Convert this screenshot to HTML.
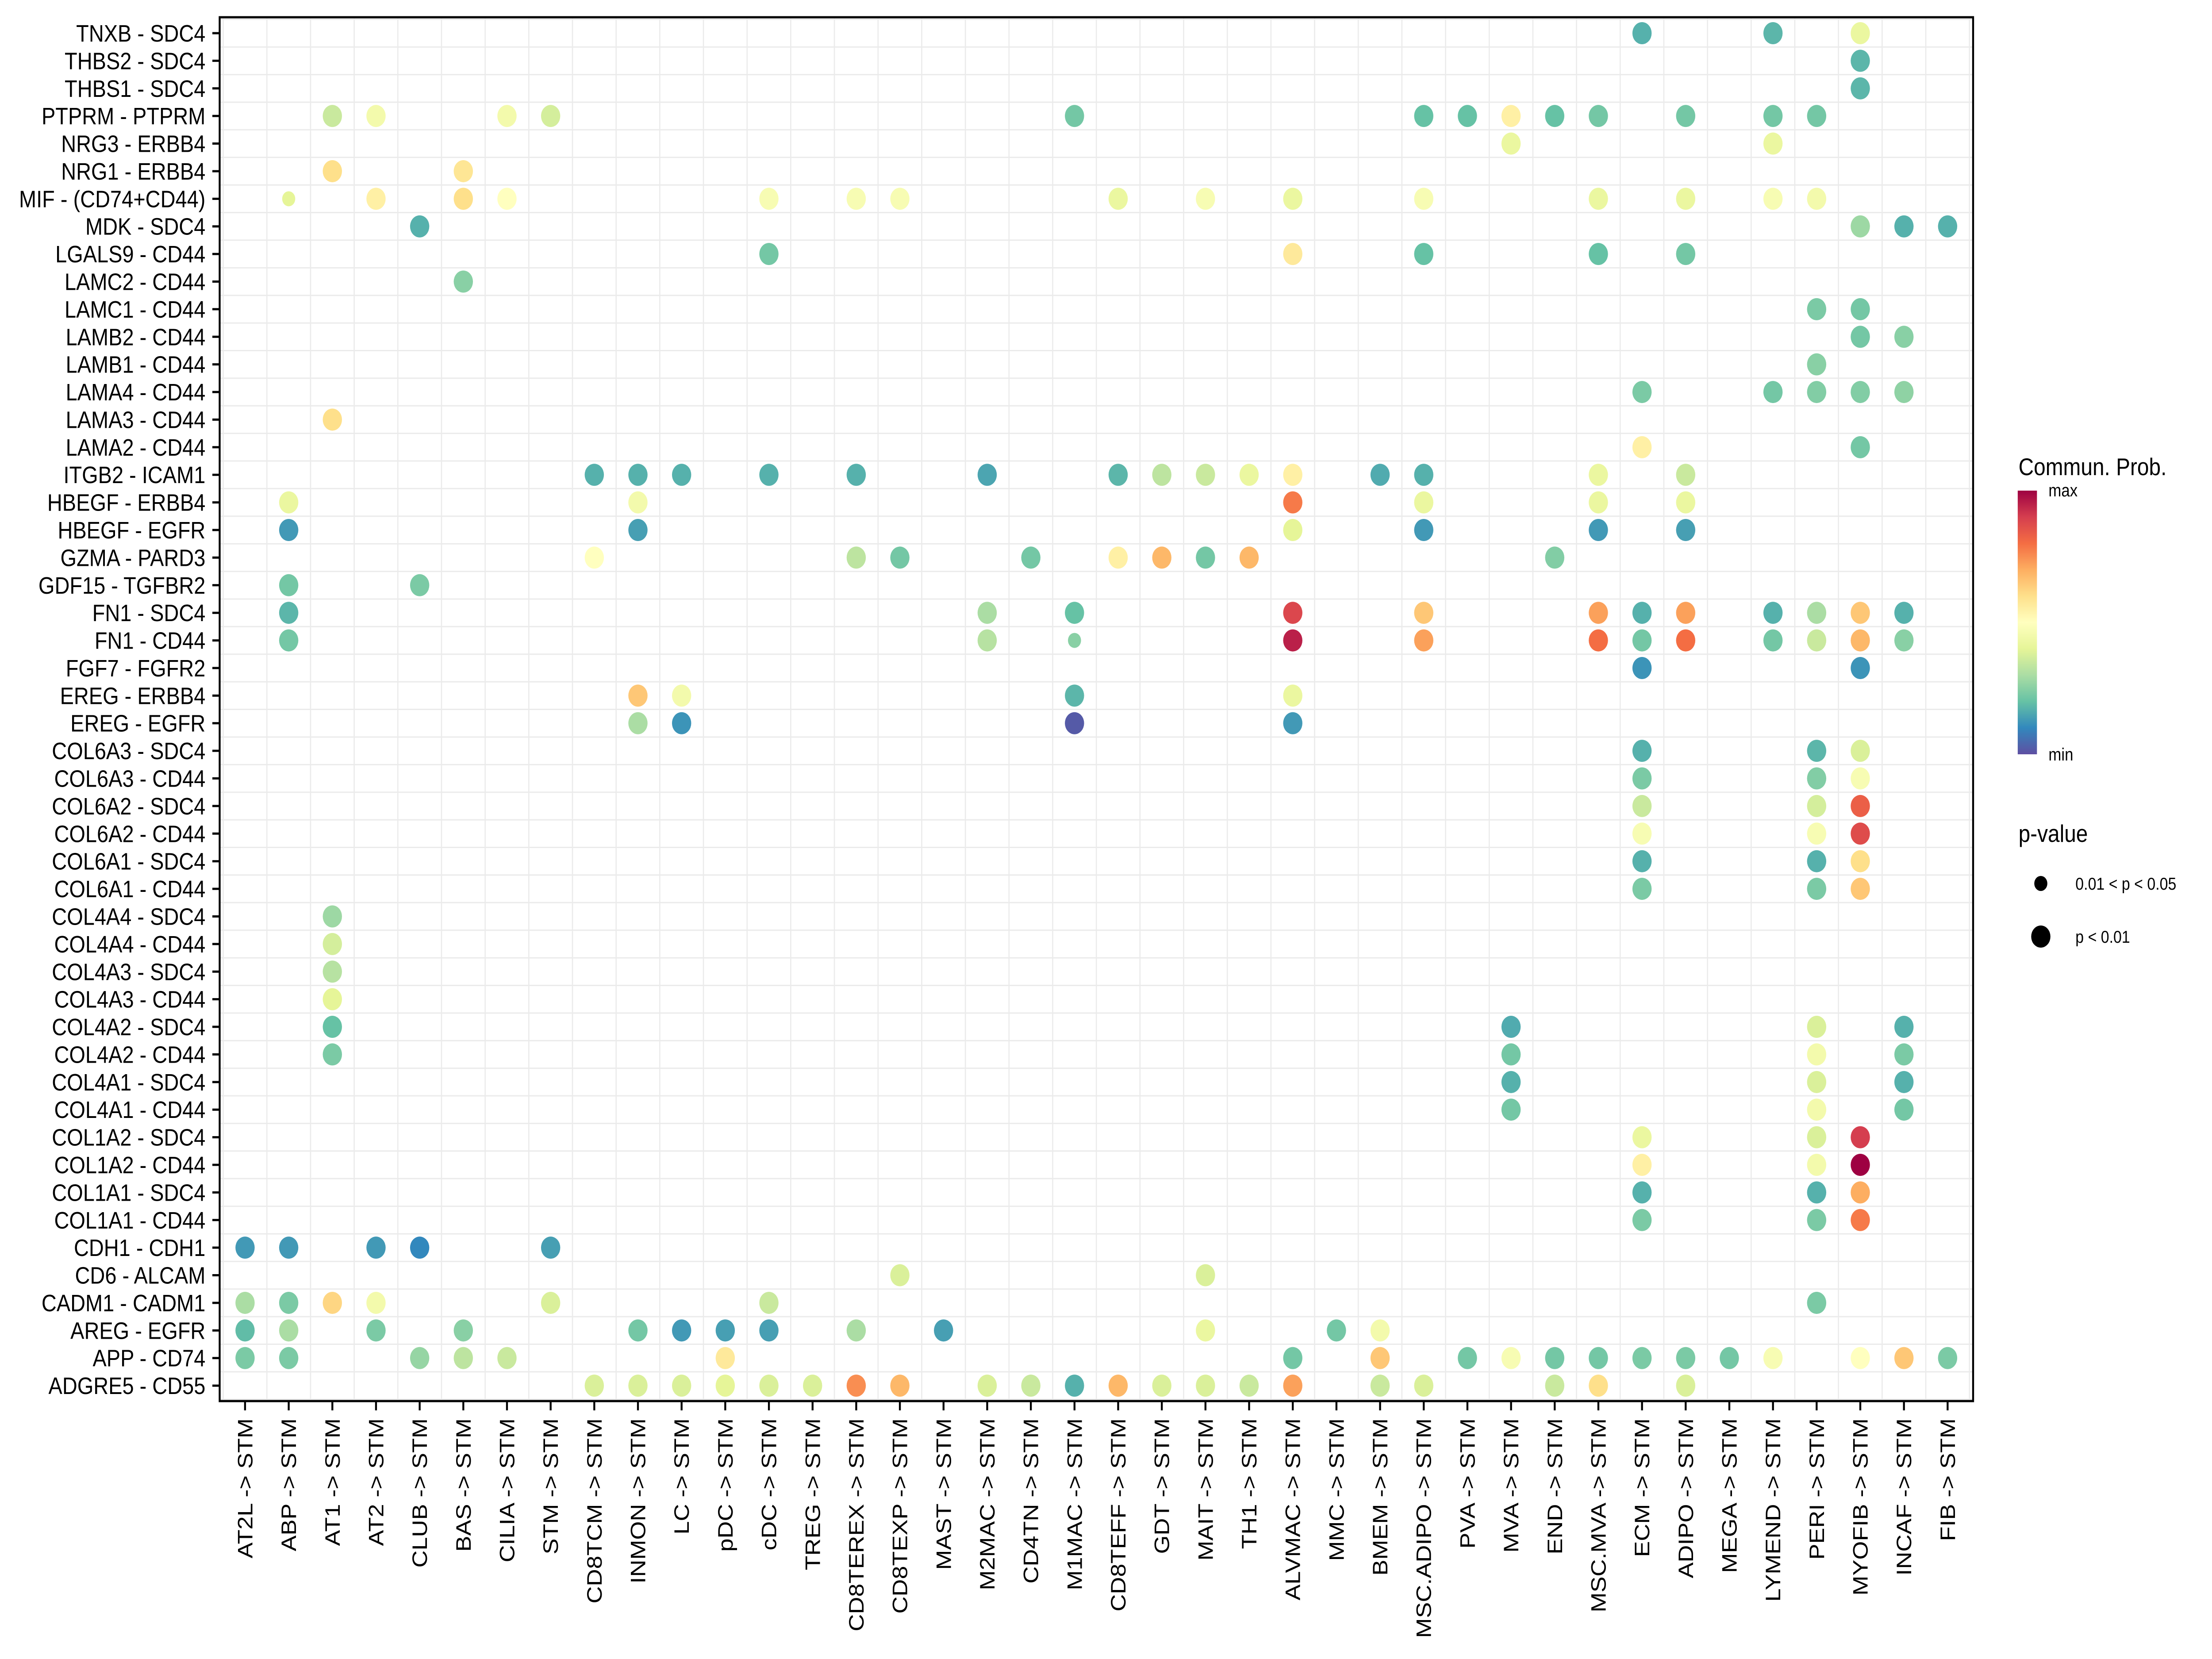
<!DOCTYPE html>
<html><head><meta charset="utf-8"><style>
html,body{margin:0;padding:0;background:#fff;width:100%;height:100%;overflow:hidden;}
svg{display:block;width:100vw;height:100vh;font-family:"Liberation Sans",Arial,sans-serif;}
</style></head><body>
<svg id="chart" viewBox="0 0 5750 3750" preserveAspectRatio="none" xmlns="http://www.w3.org/2000/svg">
<defs>
<linearGradient id="cbar" x1="0" y1="1" x2="0" y2="0">
<stop offset="0" stop-color="#5E4FA2"/><stop offset="0.1" stop-color="#3288BD"/><stop offset="0.2" stop-color="#66C2A5"/><stop offset="0.3" stop-color="#ABDDA4"/><stop offset="0.4" stop-color="#E6F598"/><stop offset="0.5" stop-color="#FFFFBF"/><stop offset="0.6" stop-color="#FEE08B"/><stop offset="0.7" stop-color="#FDAE61"/><stop offset="0.8" stop-color="#F46D43"/><stop offset="0.9" stop-color="#D53E4F"/><stop offset="1" stop-color="#9E0142"/>
</linearGradient>
</defs>
<g id="grid"></g>
<g id="dots"></g>
<rect x="571" y="39" width="4558" height="3128" fill="none" stroke="#000" stroke-width="5"/>
<g id="yaxis"></g>
<g id="xaxis"></g>
<g>
<text x="5247" y="1074" font-size="55">Commun. Prob.</text>
<rect x="5245" y="1109" width="50" height="596" fill="url(#cbar)"/>
<text x="5325" y="1122" font-size="40">max</text>
<text x="5325" y="1719" font-size="40">min</text>
</g>
<g>
<text x="5247" y="1903" font-size="55">p-value</text>
<circle cx="5305" cy="1997" r="17" fill="#000"/>
<text x="5395" y="2011" font-size="39">0.01 &lt; p &lt; 0.05</text>
<circle cx="5305" cy="2117" r="25" fill="#000"/>
<text x="5395" y="2131" font-size="39">p &lt; 0.01</text>
</g>
</svg>
<script>
const pairs = ["TNXB - SDC4","THBS2 - SDC4","THBS1 - SDC4","PTPRM - PTPRM","NRG3 - ERBB4","NRG1 - ERBB4","MIF - (CD74+CD44)","MDK - SDC4","LGALS9 - CD44","LAMC2 - CD44","LAMC1 - CD44","LAMB2 - CD44","LAMB1 - CD44","LAMA4 - CD44","LAMA3 - CD44","LAMA2 - CD44","ITGB2 - ICAM1","HBEGF - ERBB4","HBEGF - EGFR","GZMA - PARD3","GDF15 - TGFBR2","FN1 - SDC4","FN1 - CD44","FGF7 - FGFR2","EREG - ERBB4","EREG - EGFR","COL6A3 - SDC4","COL6A3 - CD44","COL6A2 - SDC4","COL6A2 - CD44","COL6A1 - SDC4","COL6A1 - CD44","COL4A4 - SDC4","COL4A4 - CD44","COL4A3 - SDC4","COL4A3 - CD44","COL4A2 - SDC4","COL4A2 - CD44","COL4A1 - SDC4","COL4A1 - CD44","COL1A2 - SDC4","COL1A2 - CD44","COL1A1 - SDC4","COL1A1 - CD44","CDH1 - CDH1","CD6 - ALCAM","CADM1 - CADM1","AREG - EGFR","APP - CD74","ADGRE5 - CD55"];
const sources = ["AT2L","ABP","AT1","AT2","CLUB","BAS","CILIA","STM","CD8TCM","INMON","LC","pDC","cDC","TREG","CD8TEREX","CD8TEXP","MAST","M2MAC","CD4TN","M1MAC","CD8TEFF","GDT","MAIT","TH1","ALVMAC","MMC","BMEM","MSC.ADIPO","PVA","MVA","END","MSC.MVA","ECM","ADIPO","MEGA","LYMEND","PERI","MYOFIB","INCAF","FIB"];
// [pair, source, relative probability 0..1, small (0.01<p<0.05)]
const dots = [
["TNXB - SDC4","ECM",0.17,0],["TNXB - SDC4","LYMEND",0.18,0],["TNXB - SDC4","MYOFIB",0.42,0],
["THBS2 - SDC4","MYOFIB",0.18,0],["THBS1 - SDC4","MYOFIB",0.18,0],
["PTPRM - PTPRM","AT1",0.35,0],["PTPRM - PTPRM","AT2",0.45,0],["PTPRM - PTPRM","CILIA",0.45,0],["PTPRM - PTPRM","STM",0.37,0],["PTPRM - PTPRM","M1MAC",0.22,0],["PTPRM - PTPRM","MSC.ADIPO",0.2,0],["PTPRM - PTPRM","PVA",0.2,0],["PTPRM - PTPRM","MVA",0.55,0],["PTPRM - PTPRM","END",0.2,0],["PTPRM - PTPRM","MSC.MVA",0.22,0],["PTPRM - PTPRM","ADIPO",0.22,0],["PTPRM - PTPRM","LYMEND",0.22,0],["PTPRM - PTPRM","PERI",0.22,0],
["NRG3 - ERBB4","MVA",0.42,0],["NRG3 - ERBB4","LYMEND",0.42,0],
["NRG1 - ERBB4","AT1",0.6,0],["NRG1 - ERBB4","BAS",0.58,0],
["MIF - (CD74+CD44)","ABP",0.4,1],["MIF - (CD74+CD44)","AT2",0.55,0],["MIF - (CD74+CD44)","BAS",0.6,0],["MIF - (CD74+CD44)","CILIA",0.5,0],["MIF - (CD74+CD44)","cDC",0.47,0],["MIF - (CD74+CD44)","CD8TEREX",0.47,0],["MIF - (CD74+CD44)","CD8TEXP",0.47,0],["MIF - (CD74+CD44)","CD8TEFF",0.42,0],["MIF - (CD74+CD44)","MAIT",0.47,0],["MIF - (CD74+CD44)","ALVMAC",0.42,0],["MIF - (CD74+CD44)","MSC.ADIPO",0.47,0],["MIF - (CD74+CD44)","MSC.MVA",0.42,0],["MIF - (CD74+CD44)","ADIPO",0.42,0],["MIF - (CD74+CD44)","LYMEND",0.47,0],["MIF - (CD74+CD44)","PERI",0.45,0],
["MDK - SDC4","CLUB",0.17,0],["MDK - SDC4","MYOFIB",0.28,0],["MDK - SDC4","INCAF",0.17,0],["MDK - SDC4","FIB",0.17,0],
["LGALS9 - CD44","cDC",0.22,0],["LGALS9 - CD44","ALVMAC",0.57,0],["LGALS9 - CD44","MSC.ADIPO",0.2,0],["LGALS9 - CD44","MSC.MVA",0.2,0],["LGALS9 - CD44","ADIPO",0.22,0],
["LAMC2 - CD44","BAS",0.25,0],
["LAMC1 - CD44","PERI",0.23,0],["LAMC1 - CD44","MYOFIB",0.22,0],
["LAMB2 - CD44","MYOFIB",0.22,0],["LAMB2 - CD44","INCAF",0.25,0],
["LAMB1 - CD44","PERI",0.25,0],
["LAMA4 - CD44","ECM",0.23,0],["LAMA4 - CD44","LYMEND",0.22,0],["LAMA4 - CD44","PERI",0.24,0],["LAMA4 - CD44","MYOFIB",0.24,0],["LAMA4 - CD44","INCAF",0.26,0],
["LAMA3 - CD44","AT1",0.6,0],
["LAMA2 - CD44","ECM",0.55,0],["LAMA2 - CD44","MYOFIB",0.22,0],
["ITGB2 - ICAM1","CD8TCM",0.17,0],["ITGB2 - ICAM1","INMON",0.17,0],["ITGB2 - ICAM1","LC",0.17,0],["ITGB2 - ICAM1","cDC",0.17,0],["ITGB2 - ICAM1","CD8TEREX",0.17,0],["ITGB2 - ICAM1","M2MAC",0.15,0],["ITGB2 - ICAM1","CD8TEFF",0.18,0],["ITGB2 - ICAM1","GDT",0.33,0],["ITGB2 - ICAM1","MAIT",0.35,0],["ITGB2 - ICAM1","TH1",0.42,0],["ITGB2 - ICAM1","ALVMAC",0.55,0],["ITGB2 - ICAM1","BMEM",0.16,0],["ITGB2 - ICAM1","MSC.ADIPO",0.17,0],["ITGB2 - ICAM1","MSC.MVA",0.42,0],["ITGB2 - ICAM1","ADIPO",0.35,0],
["HBEGF - ERBB4","ABP",0.42,0],["HBEGF - ERBB4","INMON",0.45,0],["HBEGF - ERBB4","ALVMAC",0.78,0],["HBEGF - ERBB4","MSC.ADIPO",0.42,0],["HBEGF - ERBB4","MSC.MVA",0.42,0],["HBEGF - ERBB4","ADIPO",0.42,0],
["HBEGF - EGFR","ABP",0.13,0],["HBEGF - EGFR","INMON",0.14,0],["HBEGF - EGFR","ALVMAC",0.4,0],["HBEGF - EGFR","MSC.ADIPO",0.13,0],["HBEGF - EGFR","MSC.MVA",0.13,0],["HBEGF - EGFR","ADIPO",0.14,0],
["GZMA - PARD3","CD8TCM",0.5,0],["GZMA - PARD3","CD8TEREX",0.33,0],["GZMA - PARD3","CD8TEXP",0.22,0],["GZMA - PARD3","CD4TN",0.22,0],["GZMA - PARD3","CD8TEFF",0.55,0],["GZMA - PARD3","GDT",0.68,0],["GZMA - PARD3","MAIT",0.22,0],["GZMA - PARD3","TH1",0.68,0],["GZMA - PARD3","END",0.24,0],
["GDF15 - TGFBR2","ABP",0.22,0],["GDF15 - TGFBR2","CLUB",0.23,0],
["FN1 - SDC4","ABP",0.18,0],["FN1 - SDC4","M2MAC",0.3,0],["FN1 - SDC4","M1MAC",0.2,0],["FN1 - SDC4","ALVMAC",0.88,0],["FN1 - SDC4","MSC.ADIPO",0.65,0],["FN1 - SDC4","MSC.MVA",0.72,0],["FN1 - SDC4","ECM",0.17,0],["FN1 - SDC4","ADIPO",0.72,0],["FN1 - SDC4","LYMEND",0.17,0],["FN1 - SDC4","PERI",0.3,0],["FN1 - SDC4","MYOFIB",0.65,0],["FN1 - SDC4","INCAF",0.17,0],
["FN1 - CD44","ABP",0.22,0],["FN1 - CD44","M2MAC",0.32,0],["FN1 - CD44","M1MAC",0.25,1],["FN1 - CD44","ALVMAC",0.95,0],["FN1 - CD44","MSC.ADIPO",0.72,0],["FN1 - CD44","MSC.MVA",0.8,0],["FN1 - CD44","ECM",0.22,0],["FN1 - CD44","ADIPO",0.8,0],["FN1 - CD44","LYMEND",0.22,0],["FN1 - CD44","PERI",0.35,0],["FN1 - CD44","MYOFIB",0.68,0],["FN1 - CD44","INCAF",0.25,0],
["FGF7 - FGFR2","ECM",0.12,0],["FGF7 - FGFR2","MYOFIB",0.12,0],
["EREG - ERBB4","INMON",0.65,0],["EREG - ERBB4","LC",0.45,0],["EREG - ERBB4","M1MAC",0.18,0],["EREG - ERBB4","ALVMAC",0.42,0],
["EREG - EGFR","INMON",0.3,0],["EREG - EGFR","LC",0.12,0],["EREG - EGFR","M1MAC",0.02,0],["EREG - EGFR","ALVMAC",0.13,0],
["COL6A3 - SDC4","ECM",0.17,0],["COL6A3 - SDC4","PERI",0.18,0],["COL6A3 - SDC4","MYOFIB",0.38,0],
["COL6A3 - CD44","ECM",0.23,0],["COL6A3 - CD44","PERI",0.24,0],["COL6A3 - CD44","MYOFIB",0.47,0],
["COL6A2 - SDC4","ECM",0.35,0],["COL6A2 - SDC4","PERI",0.37,0],["COL6A2 - SDC4","MYOFIB",0.83,0],
["COL6A2 - CD44","ECM",0.47,0],["COL6A2 - CD44","PERI",0.47,0],["COL6A2 - CD44","MYOFIB",0.87,0],
["COL6A1 - SDC4","ECM",0.17,0],["COL6A1 - SDC4","PERI",0.17,0],["COL6A1 - SDC4","MYOFIB",0.6,0],
["COL6A1 - CD44","ECM",0.23,0],["COL6A1 - CD44","PERI",0.23,0],["COL6A1 - CD44","MYOFIB",0.65,0],
["COL4A4 - SDC4","AT1",0.28,0],["COL4A4 - CD44","AT1",0.37,0],["COL4A3 - SDC4","AT1",0.32,0],["COL4A3 - CD44","AT1",0.4,0],
["COL4A2 - SDC4","AT1",0.2,0],["COL4A2 - SDC4","MVA",0.16,0],["COL4A2 - SDC4","PERI",0.38,0],["COL4A2 - SDC4","INCAF",0.17,0],
["COL4A2 - CD44","AT1",0.23,0],["COL4A2 - CD44","MVA",0.22,0],["COL4A2 - CD44","PERI",0.45,0],["COL4A2 - CD44","INCAF",0.23,0],
["COL4A1 - SDC4","MVA",0.17,0],["COL4A1 - SDC4","PERI",0.38,0],["COL4A1 - SDC4","INCAF",0.17,0],
["COL4A1 - CD44","MVA",0.22,0],["COL4A1 - CD44","PERI",0.45,0],["COL4A1 - CD44","INCAF",0.22,0],
["COL1A2 - SDC4","ECM",0.42,0],["COL1A2 - SDC4","PERI",0.38,0],["COL1A2 - SDC4","MYOFIB",0.9,0],
["COL1A2 - CD44","ECM",0.55,0],["COL1A2 - CD44","PERI",0.45,0],["COL1A2 - CD44","MYOFIB",1.0,0],
["COL1A1 - SDC4","ECM",0.17,0],["COL1A1 - SDC4","PERI",0.17,0],["COL1A1 - SDC4","MYOFIB",0.7,0],
["COL1A1 - CD44","ECM",0.23,0],["COL1A1 - CD44","PERI",0.23,0],["COL1A1 - CD44","MYOFIB",0.78,0],
["CDH1 - CDH1","AT2L",0.13,0],["CDH1 - CDH1","ABP",0.13,0],["CDH1 - CDH1","AT2",0.13,0],["CDH1 - CDH1","CLUB",0.1,0],["CDH1 - CDH1","STM",0.14,0],
["CD6 - ALCAM","CD8TEXP",0.38,0],["CD6 - ALCAM","MAIT",0.38,0],
["CADM1 - CADM1","AT2L",0.3,0],["CADM1 - CADM1","ABP",0.23,0],["CADM1 - CADM1","AT1",0.62,0],["CADM1 - CADM1","AT2",0.45,0],["CADM1 - CADM1","STM",0.38,0],["CADM1 - CADM1","cDC",0.35,0],["CADM1 - CADM1","PERI",0.23,0],
["AREG - EGFR","AT2L",0.19,0],["AREG - EGFR","ABP",0.3,0],["AREG - EGFR","AT2",0.23,0],["AREG - EGFR","BAS",0.25,0],["AREG - EGFR","INMON",0.22,0],["AREG - EGFR","LC",0.13,0],["AREG - EGFR","pDC",0.14,0],["AREG - EGFR","cDC",0.14,0],["AREG - EGFR","CD8TEREX",0.3,0],["AREG - EGFR","MAST",0.14,0],["AREG - EGFR","MAIT",0.42,0],["AREG - EGFR","MMC",0.22,0],["AREG - EGFR","BMEM",0.45,0],
["APP - CD74","AT2L",0.23,0],["APP - CD74","ABP",0.23,0],["APP - CD74","CLUB",0.27,0],["APP - CD74","BAS",0.33,0],["APP - CD74","CILIA",0.35,0],["APP - CD74","pDC",0.57,0],["APP - CD74","ALVMAC",0.22,0],["APP - CD74","BMEM",0.65,0],["APP - CD74","PVA",0.22,0],["APP - CD74","MVA",0.47,0],["APP - CD74","END",0.22,0],["APP - CD74","MSC.MVA",0.22,0],["APP - CD74","ECM",0.23,0],["APP - CD74","ADIPO",0.23,0],["APP - CD74","MEGA",0.22,0],["APP - CD74","LYMEND",0.47,0],["APP - CD74","MYOFIB",0.5,0],["APP - CD74","INCAF",0.65,0],["APP - CD74","FIB",0.23,0],
["ADGRE5 - CD55","CD8TCM",0.38,0],["ADGRE5 - CD55","INMON",0.38,0],["ADGRE5 - CD55","LC",0.38,0],["ADGRE5 - CD55","pDC",0.4,0],["ADGRE5 - CD55","cDC",0.38,0],["ADGRE5 - CD55","TREG",0.38,0],["ADGRE5 - CD55","CD8TEREX",0.75,0],["ADGRE5 - CD55","CD8TEXP",0.68,0],["ADGRE5 - CD55","M2MAC",0.38,0],["ADGRE5 - CD55","CD4TN",0.35,0],["ADGRE5 - CD55","M1MAC",0.17,0],["ADGRE5 - CD55","CD8TEFF",0.68,0],["ADGRE5 - CD55","GDT",0.38,0],["ADGRE5 - CD55","MAIT",0.38,0],["ADGRE5 - CD55","TH1",0.35,0],["ADGRE5 - CD55","ALVMAC",0.72,0],["ADGRE5 - CD55","BMEM",0.35,0],["ADGRE5 - CD55","MSC.ADIPO",0.38,0],["ADGRE5 - CD55","END",0.35,0],["ADGRE5 - CD55","MSC.MVA",0.6,0],["ADGRE5 - CD55","ADIPO",0.38,0]
];
const paletteStops = ["#5E4FA2","#3288BD","#66C2A5","#ABDDA4","#E6F598","#FFFFBF","#FEE08B","#FDAE61","#F46D43","#D53E4F","#9E0142"];

const NS = "http://www.w3.org/2000/svg";
const X0 = 637, DX = 113.48, Y0 = 75, DY = 62.39;
const PL = 571, PR = 5129, PT = 39, PB = 3167;
function xPos(src){ return X0 + sources.indexOf(src) * DX; }
function yPos(pair){ return Y0 + pairs.indexOf(pair) * DY; }
function hex(h){ return [1,3,5].map(i=>parseInt(h.substr(i,2),16)); }
function colorOf(v){
  v = Math.max(0, Math.min(1, v));
  const t = v * (paletteStops.length - 1), i = Math.min(Math.floor(t), paletteStops.length - 2), f = t - i;
  const a = hex(paletteStops[i]), b = hex(paletteStops[i+1]);
  return "rgb(" + a.map((c,k)=>Math.round(c + (b[k]-c)*f)).join(",") + ")";
}
function mk(tag, attrs, parent){
  const el = document.createElementNS(NS, tag);
  for (const k in attrs) el.setAttribute(k, attrs[k]);
  parent.appendChild(el);
  return el;
}
const grid = document.getElementById("grid");
for (let i = 0; i <= sources.length; i++) {
  const x = X0 + (i - 0.5) * DX;
  if (x <= PL || x >= PR) continue;
  const l = mk("line", {x1:x, x2:x, y1:PT, y2:PB, stroke:"#ebebeb", "stroke-width":3}, grid);
  
  
}
for (let j = 0; j <= pairs.length; j++) {
  const y = Y0 + (j - 0.5) * DY;
  if (y <= PT || y >= PB) continue;
  const l = mk("line", {x1:PL, x2:PR, y1:y, y2:y, stroke:"#ebebeb", "stroke-width":3}, grid);
  
  
}
const dg = document.getElementById("dots");
dots.forEach(d => {
  const c = mk("circle", {cx:xPos(d[1]), cy:yPos(d[0]), r:d[3] ? 17 : 25, fill:colorOf(d[2])}, dg);
  
  
});
const ya = document.getElementById("yaxis");
pairs.forEach(p => {
  const y = yPos(p);
  const t = mk("line", {x1:552, x2:571, y1:y, y2:y, stroke:"#000", "stroke-width":5}, ya);
  
  
  const tx = mk("text", {x:534, y:y + 19, "font-size":54, "text-anchor":"end"}, ya);
  tx.textContent = p;
  
  
});
const xa = document.getElementById("xaxis");
sources.forEach(s => {
  const x = xPos(s);
  const t = mk("line", {x1:x, x2:x, y1:3167, y2:3188, stroke:"#000", "stroke-width":5}, xa);
  
  
  const tx = mk("text", {x:0, y:0, "font-size":54, "text-anchor":"end", transform:"translate(" + (x + 19) + ",3206) rotate(-90)"}, xa);
  tx.textContent = s + " -> STM";
  
  
});
</script>
</body></html>
